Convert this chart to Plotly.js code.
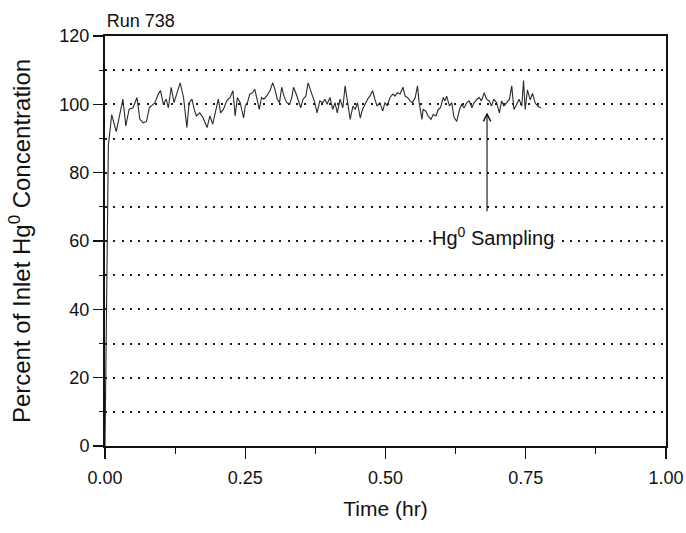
<!DOCTYPE html>
<html>
<head>
<meta charset="utf-8">
<script src="https://cdn.plot.ly/plotly-3.0.1.min.js"></script>
<style>html,body{margin:0;padding:0;background:#fff;}#chart{width:686px;height:533px;}</style>
</head>
<body>
<div id="chart"></div>
<script>
// Time (hr)
const timeHr = [0, 0.0018, 0.0036, 0.006, 0.012, 0.020, 0.032, 0.037, 0.043, 0.050, 0.057, 0.062, 0.068, 0.074, 0.079, 0.089, 0.095, 0.099, 0.104, 0.109, 0.113, 0.118, 0.123,
  0.128, 0.134, 0.140, 0.146, 0.150, 0.155, 0.159, 0.163, 0.169, 0.175, 0.182, 0.187, 0.192, 0.198, 0.202, 0.206, 0.211, 0.217, 0.223, 0.228, 0.232, 0.236, 0.241,
  0.247, 0.250, 0.254, 0.258, 0.263, 0.267, 0.271, 0.275, 0.279, 0.283, 0.288, 0.294, 0.299, 0.303, 0.307, 0.311, 0.315, 0.319, 0.324, 0.329, 0.333, 0.336, 0.340, 0.345, 0.349, 0.353, 0.358, 0.362, 0.367,
  0.370, 0.374, 0.378, 0.383, 0.388, 0.392, 0.396, 0.401, 0.406, 0.410, 0.414, 0.419, 0.424, 0.428, 0.432, 0.437, 0.442, 0.446, 0.450, 0.455, 0.459, 0.463, 0.468, 0.472, 0.477, 0.481, 0.485, 0.490,
  0.495, 0.499, 0.503, 0.508, 0.513, 0.517, 0.521, 0.526, 0.531, 0.535, 0.539, 0.544, 0.548, 0.553, 0.557, 0.560, 0.565, 0.567, 0.572, 0.576, 0.581, 0.585, 0.590, 0.594, 0.598, 0.603, 0.606, 0.609, 0.614,
  0.618, 0.622, 0.627, 0.632, 0.636, 0.640, 0.645, 0.649, 0.654, 0.658, 0.663, 0.667, 0.671, 0.676, 0.680, 0.685, 0.689, 0.693, 0.698, 0.703, 0.707, 0.711, 0.716, 0.721, 0.725, 0.729, 0.734, 0.738, 0.743, 0.746, 0.749, 0.753, 0.758, 0.762, 0.767, 0.773, 0.777];
// Percent of inlet Hg0 concentration
const percentHg = [0, 30, 70, 88, 97, 92, 101.5, 93.7, 98.6, 99, 102, 95.7, 94.6, 95, 99, 100.5, 103, 104, 100, 101.5, 99, 105, 100.5,
  103.4, 106.3, 102, 93.2, 100.5, 101.5, 98.5, 96.6, 97.5, 96, 93.2, 96.6, 94.2, 99, 101.5, 97.5, 98.5, 101, 102, 104, 96.6, 102, 100.5,
  96, 99.5, 100.5, 103, 103.4, 104.4, 101.5, 98.5, 102, 101.5, 102.4, 104, 106.3, 104.4, 101.5, 100.5, 105, 102.4, 100.5, 100, 102, 105, 103.4, 101, 99, 101.5, 102.4, 106.3, 103.4,
  102.4, 100.5, 97.5, 101, 100.5, 101.5, 100, 102, 98.5, 100.5, 97.5, 101.5, 99, 105.4, 101.5, 95.6, 99.5, 98.5, 100.5, 96, 98.5, 100, 101.5, 102.4, 104, 101.5, 99.5, 100.5,
  98, 100.5, 99.5, 102, 103, 102.4, 103.4, 103, 105, 102.4, 102, 101, 100.5, 102, 105.4, 100.5, 95.6, 98.5, 98, 96.6, 95.6, 97, 96.6, 98.5, 99, 102, 101, 102.4, 99.5,
  100.5, 96.3, 95, 98.5, 100, 99, 100.5, 101, 99, 100.5, 101.5, 102, 101, 103.4, 101.5, 101, 99.5, 101.5, 100.5, 97.5, 101, 99.5, 100.5, 101.5, 105.4, 98.5, 100, 101.5, 99.5, 107, 98.5, 104.2, 101.3, 103.2, 100.3, 99.3, 99];

const xTickVals = [0, 0.25, 0.5, 0.75, 1.0];
const xTickText = ["0.00", "0.25", "0.50", "0.75", "1.00"];
const yTickVals = [0, 20, 40, 60, 80, 100, 120];
const yTickText = ["0", "20", "40", "60", "80", "100", "120"];
const runLabel = "Run 738";
const samplingLabel = "Hg<sup>0</sup> Sampling";
const samplingTime = 0.681;
const samplingTip = 97.6;
const samplingTail = 68.3;
const samplingTextX = 0.692;
const samplingTextY = 61.3;

const ink = "#111";
const font = "Liberation Sans, Arial, sans-serif";

const trace = {
  x: timeHr, y: percentHg, type: "scatter", mode: "lines",
  line: {color: "#2a2a2a", width: 1.1}, hoverinfo: "skip"
};

const gridDash = "2px,6.3px";

const layout = {
  width: 686, height: 533,
  margin: {l: 105, r: 20, t: 36, b: 87},
  paper_bgcolor: "#fff", plot_bgcolor: "#fff",
  showlegend: false,
  font: {family: font, color: ink, size: 18},
  title: {text: runLabel, x: 0.003, xref: "paper", xanchor: "left", y: 0.962, yref: "container", yanchor: "middle",
          font: {family: font, size: 18, color: ink}},
  xaxis: {
    range: [0, 1], tickvals: xTickVals, ticktext: xTickText,
    ticks: "outside", ticklen: 11, tickwidth: 1.2, tickcolor: ink,
    minor: {dtick: 0.125, tick0: 0, ticks: "outside", ticklen: 6, tickwidth: 1.2, tickcolor: ink, showgrid: false},
    showline: true, linecolor: ink, linewidth: 1.6, mirror: true,
    showgrid: false, zeroline: false,
    ticklabelstandoff: 4,
    tickfont: {family: font, size: 18, color: ink},
    title: {text: "Time (hr)", font: {family: font, size: 21, color: ink}, standoff: 14},
    automargin: false
  },
  yaxis: {
    range: [0, 120], tickvals: yTickVals, ticktext: yTickText,
    ticks: "outside", ticklen: 10, tickwidth: 1.2, tickcolor: ink,
    minor: {dtick: 10, tick0: 0, ticks: "outside", ticklen: 4, tickwidth: 1.2, tickcolor: ink,
            showgrid: true, gridcolor: "#1a1a1a", gridwidth: 2, griddash: gridDash},
    showgrid: true, gridcolor: "#1a1a1a", gridwidth: 2, griddash: gridDash,
    showline: true, linecolor: ink, linewidth: 2, mirror: true,
    zeroline: false,
    tickfont: {family: font, size: 18, color: ink},
    title: {text: "Percent of Inlet Hg<sup>0</sup> Concentration", font: {family: font, size: 24, color: ink}, standoff: 22},
    automargin: false
  },
  annotations: [
    {x: samplingTime, y: samplingTip, ax: samplingTime, ay: samplingTail, xref: "x", yref: "y", axref: "x", ayref: "y",
     text: "", showarrow: true, arrowhead: 5, arrowsize: 1.3, arrowwidth: 1.1, arrowcolor: ink},
    {x: samplingTextX, y: samplingTextY, xref: "x", yref: "y", text: samplingLabel, showarrow: false,
     bgcolor: "#fff", font: {family: font, size: 20, color: ink}, borderpad: 0}
  ]
};

Plotly.newPlot("chart", [trace], layout, {staticPlot: true, displayModeBar: false});
</script>
</body>
</html>
